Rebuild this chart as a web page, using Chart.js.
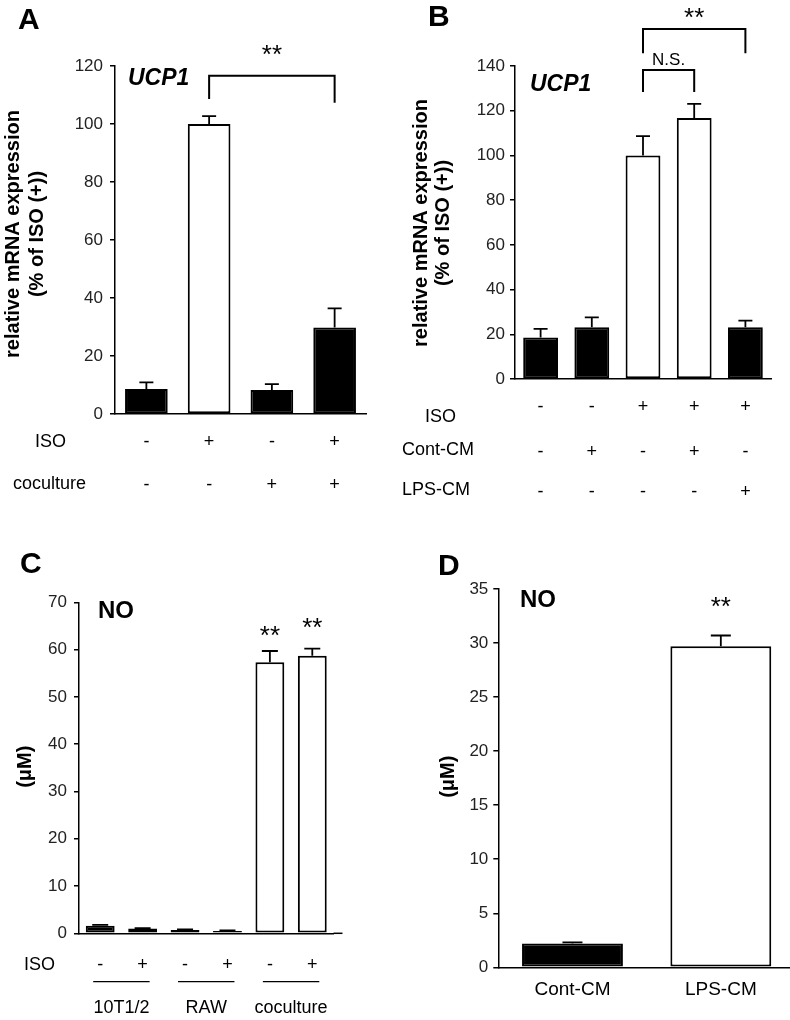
<!DOCTYPE html>
<html>
<head>
<meta charset="utf-8">
<script src="https://cdn.jsdelivr.net/npm/chart.js@4.4.1/dist/chart.umd.min.js"></script>
<style>
  html, body { margin: 0; padding: 0; background: #fff; }
  #page { position: relative; width: 790px; height: 1020px; overflow: hidden; background: #fff; }
  canvas { position: absolute; }
</style>
</head>
<body>
<div id="page">
  <canvas id="chartA" width="395" height="510" style="left:0;top:0"></canvas>
  <canvas id="chartB" width="395" height="510" style="left:395px;top:0"></canvas>
  <canvas id="chartC" width="395" height="510" style="left:0;top:510px"></canvas>
  <canvas id="chartD" width="400" height="510" style="left:395px;top:510px"></canvas>
</div>
<script>
// A - UCP1, ISO x coculture
const aIso = ['-', '+', '-', '+'];
const aCoculture = ['-', '-', '+', '+'];
const aUcp1 = [8.6, 100, 8.3, 29.8];
const aErr = [2.3, 2.7, 2.0, 6.6];
const aTicks = [0, 20, 40, 60, 80, 100, 120];

// B - UCP1, conditioned media
const bIso = ['-', '-', '+', '+', '+'];
const bContCM = ['-', '+', '-', '+', '-'];
const bLpsCM = ['-', '-', '-', '-', '+'];
const bUcp1 = [18.6, 23.1, 100, 116.7, 23.1];
const bErr = [3.8, 4.5, 8.6, 6.4, 3.0];
const bTicks = [0, 20, 40, 60, 80, 100, 120, 140];

// C - NO in medium
const cGroups = ['10T1/2', 'RAW', 'coculture'];
const cIso = ['-', '+', '-', '+', '-', '+'];
const cNo = [1.6, 1.0, 0.7, 0.5, 57.3, 58.7];
const cErr = [0.2, 0.1, 0.1, 0.1, 2.4, 1.5];
const cTicks = [0, 10, 20, 30, 40, 50, 60, 70];

// D - NO, conditioned media
const dLabels = ['Cont-CM', 'LPS-CM'];
const dNo = [2.2, 29.7];
const dErr = [0.1, 1.0];
const dTicks = [0, 5, 10, 15, 20, 25, 30, 35];

const FONT = '"Liberation Sans", Arial, Helvetica, sans-serif';
Chart.defaults.font.family = FONT;

function put(ctx, str, x, y, font, align) {
  ctx.font = font;
  ctx.textAlign = align || 'center';
  ctx.textBaseline = 'middle';
  ctx.fillText(str, x, y);
}

function extrasPlugin(cfg) {
  return {
    id: 'extras',
    afterDraw(chart) {
      const ctx = chart.ctx;
      const xs = chart.scales.x, ys = chart.scales.y;
      const area = chart.chartArea;
      const bars = chart.getDatasetMeta(0).data;
      const vals = chart.data.datasets[0].data;
      const cx = i => xs.getPixelForValue(i);
      ctx.save();
      ctx.strokeStyle = '#000';
      ctx.fillStyle = '#000';

      // error bars (upper only)
      ctx.lineWidth = 1.8;
      cfg.err.forEach((e, i) => {
        const bx = bars[i].x;
        const top = ys.getPixelForValue(vals[i] + e);
        ctx.beginPath();
        ctx.moveTo(bx, bars[i].y);
        ctx.lineTo(bx, top);
        ctx.moveTo(bx - cfg.cap, top);
        ctx.lineTo(bx + cfg.cap, top);
        ctx.stroke();
      });

      // axis line running past the last bar
      if (cfg.axisExtra) {
        ctx.lineWidth = 1.5;
        ctx.beginPath();
        ctx.moveTo(area.right, area.bottom);
        ctx.lineTo(area.right + cfg.axisExtra, area.bottom);
        ctx.stroke();
      }

      // significance brackets
      ctx.lineWidth = 2;
      (cfg.brackets || []).forEach(b => {
        const top = ys.getPixelForValue(b.top);
        ctx.beginPath();
        ctx.moveTo(cx(b.from), ys.getPixelForValue(b.legs[0]));
        ctx.lineTo(cx(b.from), top);
        ctx.lineTo(cx(b.to), top);
        ctx.lineTo(cx(b.to), ys.getPixelForValue(b.legs[1]));
        ctx.stroke();
      });

      // notes placed on the data scales
      (cfg.notes || []).forEach(n => {
        const size = n.size || 26;
        const shift = /^\*+$/.test(n.text) ? size * 0.2 : 0;
        put(ctx, n.text, cx(n.at), ys.getPixelForValue(n.v) + shift, size + 'px ' + FONT);
      });

      // condition rows below the axis
      (cfg.rows || []).forEach(r => {
        if (r.title) put(ctx, r.title, r.titleX, area.bottom + r.titleDy, '18px ' + FONT, 'left');
        r.signs.forEach((s, i) => put(ctx, s, cx(i), area.bottom + r.dy, (r.size || 18) + 'px ' + FONT));
      });

      // grouping lines (panel C)
      ctx.lineWidth = 1.2;
      (cfg.groups || []).forEach(g => {
        const y = area.bottom + cfg.groupLineDy;
        ctx.beginPath();
        ctx.moveTo(cx(g.from) - 7, y);
        ctx.lineTo(cx(g.to) + 7, y);
        ctx.stroke();
        put(ctx, g.label, (cx(g.from) + cx(g.to)) / 2, area.bottom + cfg.groupLabelDy, '18px ' + FONT);
      });

      // fixed texts: panel letter, gene name
      (cfg.texts || []).forEach(t => put(ctx, t.text, t.x, t.y, t.font, 'left'));

      // rotated y title
      if (cfg.yTitle) {
        cfg.yTitle.lines.forEach((line, k) => {
          ctx.save();
          ctx.translate(cfg.yTitle.xs[k], cfg.yTitle.y);
          ctx.rotate(-Math.PI / 2);
          put(ctx, line, 0, 0, 'bold 20px ' + FONT);
          ctx.restore();
        });
      }
      ctx.restore();
    }
  };
}

function makePanel(id, cfg) {
  return new Chart(document.getElementById(id), {
    type: 'bar',
    data: {
      labels: cfg.labels,
      datasets: [{
        data: cfg.values,
        backgroundColor: cfg.values.map((v, i) => cfg.open.includes(i) ? '#fff' : '#000'),
        borderColor: '#000',
        borderWidth: 2,
        borderSkipped: false,
        barPercentage: 0.68,
        categoryPercentage: 1
      }]
    },
    options: {
      responsive: false,
      animation: false,
      events: [],
      layout: { padding: cfg.padding },
      plugins: { legend: { display: false }, tooltip: { enabled: false } },
      scales: {
        x: {
          grid: { display: false },
          ticks: { display: false },
          border: { color: '#000', width: 1.5 },
          afterFit: s => { s.height = 0; }
        },
        y: {
          min: 0,
          max: cfg.ticks[cfg.ticks.length - 1],
          afterBuildTicks: s => { s.ticks = cfg.ticks.map(v => ({ value: v })); },
          afterFit: s => { s.width = cfg.axisLeft; },
          grid: { drawOnChartArea: false, drawTicks: true, tickLength: 5, color: '#000', lineWidth: 1.5 },
          border: { color: '#000', width: 1.5 },
          ticks: { padding: cfg.tickPad, color: '#222', font: { size: 17 } }
        }
      }
    },
    plugins: [extrasPlugin(cfg)]
  });
}

const yTitleUcp = ['relative mRNA expression', '(% of ISO (+))'];

makePanel('chartA', {
  labels: aIso.map((s, i) => 'ISO' + s + ' coculture' + aCoculture[i]),
  values: aUcp1, err: aErr, ticks: aTicks, open: [1],
  axisLeft: 115, tickPad: 7, cap: 7,
  padding: { left: 0, right: 29, top: 66, bottom: 96 },
  brackets: [{ from: 1, to: 3, top: 116.6, legs: [108.6, 107.3] }],
  notes: [{ text: '**', at: 2, v: 125.2 }],
  rows: [
    { title: 'ISO', titleX: 35, titleDy: 28, signs: aIso, dy: 28 },
    { title: 'coculture', titleX: 13, titleDy: 70, signs: aCoculture, dy: 71 }
  ],
  texts: [
    { text: 'A', x: 18, y: 21, font: 'bold 30px ' + FONT },
    { text: 'UCP1', x: 128, y: 79, font: 'italic bold 23px ' + FONT }
  ],
  yTitle: { lines: yTitleUcp, xs: [13, 37.5], y: 234 }
});

makePanel('chartB', {
  labels: bIso.map((s, i) => 'ISO' + s + ' Cont' + bContCM[i] + ' LPS' + bLpsCM[i]),
  values: bUcp1, err: bErr, ticks: bTicks, open: [2, 3],
  axisLeft: 120, tickPad: 5, cap: 7,
  padding: { left: 0, right: 19, top: 66, bottom: 131 },
  brackets: [
    { from: 2, to: 4, top: 156.5, legs: [145.7, 145.7] },
    { from: 2, to: 3, top: 138.2, legs: [128.4, 128.4] }
  ],
  notes: [
    { text: '**', at: 3, v: 163.5 },
    { text: 'N.S.', at: 2.5, v: 142.7, size: 17 }
  ],
  rows: [
    { title: 'ISO', titleX: 30, titleDy: 38, signs: bIso, dy: 28 },
    { title: 'Cont-CM', titleX: 7, titleDy: 71, signs: bContCM, dy: 73 },
    { title: 'LPS-CM', titleX: 7, titleDy: 111, signs: bLpsCM, dy: 113 }
  ],
  texts: [
    { text: 'B', x: 33, y: 18, font: 'bold 30px ' + FONT },
    { text: 'UCP1', x: 135, y: 85, font: 'italic bold 23px ' + FONT }
  ],
  yTitle: { lines: yTitleUcp, xs: [26.7, 48], y: 223 }
});

makePanel('chartC', {
  labels: cIso.map((s, i) => cGroups[Math.floor(i / 2)] + ' ISO' + s),
  values: cNo, err: cErr, ticks: cTicks, open: [4, 5],
  axisLeft: 79, tickPad: 7, cap: 8, axisExtra: 9,
  padding: { left: 0, right: 61.5, top: 92.3, bottom: 86.7 },
  notes: [
    { text: '**', at: 4, v: 63.8 },
    { text: '**', at: 5, v: 65.5 }
  ],
  rows: [{ title: 'ISO', titleX: 24, titleDy: 31.7, signs: cIso, dy: 31.7 }],
  groups: cGroups.map((g, k) => ({ from: 2 * k, to: 2 * k + 1, label: g })),
  groupLineDy: 48.4, groupLabelDy: 74.5,
  texts: [
    { text: 'C', x: 20, y: 55, font: 'bold 30px ' + FONT },
    { text: 'NO', x: 98, y: 101.7, font: 'bold 24px ' + FONT }
  ],
  yTitle: { lines: ['(\u03bcM)'], xs: [25], y: 256.7 }
});

makePanel('chartD', {
  labels: dLabels,
  values: dNo, err: dErr, ticks: dTicks, open: [1],
  axisLeft: 103.3, tickPad: 5, cap: 10,
  padding: { left: 0, right: 0, top: 79, bottom: 52.7 },
  notes: [{ text: '**', at: 1, v: 33.7 }],
  rows: [{ signs: dLabels, dy: 22.7, size: 19 }],
  texts: [
    { text: 'D', x: 43, y: 56.7, font: 'bold 30px ' + FONT },
    { text: 'NO', x: 125, y: 90, font: 'bold 24px ' + FONT }
  ],
  yTitle: { lines: ['(\u03bcM)'], xs: [53], y: 266.7 }
});
</script>
</body>
</html>
